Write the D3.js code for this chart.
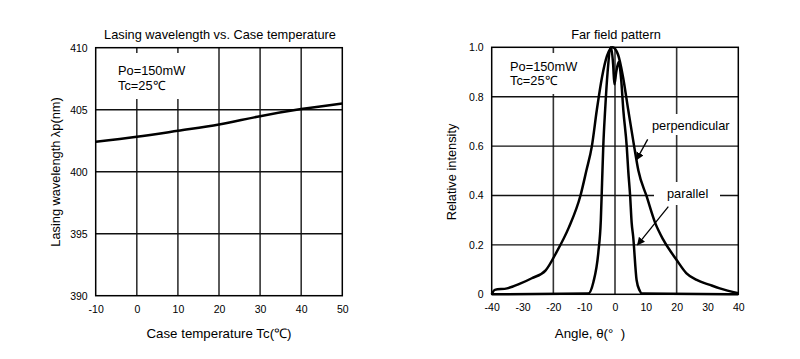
<!DOCTYPE html>
<html><head><meta charset="utf-8">
<script src="https://cdn.jsdelivr.net/npm/d3@7"></script>
<style>
html,body{margin:0;padding:0;background:#fff;}
svg text{font-family:"Liberation Sans",Arial,sans-serif;fill:#000;}
</style></head>
<body><svg id="c" width="800" height="359"></svg>
<script>
// ---- Left chart data ----
const tempC = [-10, 0, 10, 20, 30, 40, 50];
const wavelength = [402.42, 402.82, 403.3, 403.8, 404.48, 405.05, 405.5];
const leftXTicks = [-10, 0, 10, 20, 30, 40, 50];
const leftYTicks = [390, 395, 400, 405, 410];

// ---- Right chart data ----
const perpAngle = [-40, -39, -35, -31, -27, -22.5, -19, -15, -11.2, -9.3, -7.5, -5.9, -4.2, -2.6, -0.8, 1.0, 2.6, 4.3, 6.2, 7.6, 10.3, 13, 15.7, 20, 23.2, 26.5, 30.8, 34, 40];
const perpValue = [0.0, 0.018, 0.024, 0.042, 0.065, 0.097, 0.17, 0.27, 0.4, 0.5, 0.6, 0.746, 0.88, 0.965, 1.0, 0.97, 0.88, 0.746, 0.6, 0.5, 0.395, 0.29, 0.22, 0.139, 0.085, 0.058, 0.038, 0.024, 0.004];
const paraAngle = [-40, -8.7, -7.0, -5.4, -4.6, -4.2, -3.8, -3.2, -2.4, -1.3, -0.6, -0.2, 0.4, 1.2, 2.0, 2.7, 3.8, 4.3, 4.9, 5.4, 5.9, 7.0, 8.0, 8.7, 40];
const paraValue = [0, 0.003, 0.05, 0.17, 0.3, 0.45, 0.6, 0.746, 0.9, 1.0, 0.93, 0.85, 0.9, 0.94, 0.87, 0.746, 0.6, 0.5, 0.4, 0.29, 0.233, 0.058, 0.015, 0.003, 0];
const rightXTicks = [-40, -30, -20, -10, 0, 10, 20, 30, 40];
const rightXGrid = [-20, 0, 20];
const rightYTicks = [0, 0.2, 0.4, 0.6, 0.8, 1.0];
const rightYLabels = ["0", "0.2", "0.4", "0.6", "0.8", "1.0"];

const svg = d3.select("#c");
const FONT = "Liberation Sans, Arial, sans-serif";

// ================= LEFT =================
const xL = d3.scaleLinear().domain([-10, 50]).range([95.7, 342.3]);
const yL = d3.scaleLinear().domain([390, 410]).range([295.7, 47.7]);
const gL = svg.append("g");

gL.selectAll(".vg").data(leftXTicks.slice(1, -1)).enter().append("line")
  .attr("x1", d => xL(d)).attr("x2", d => xL(d))
  .attr("y1", yL(410)).attr("y2", yL(390))
  .attr("stroke", "#333").attr("stroke-width", 1.6);
gL.selectAll(".hg").data(leftYTicks.slice(1, -1)).enter().append("line")
  .attr("x1", xL(-10)).attr("x2", xL(50))
  .attr("y1", d => yL(d)).attr("y2", d => yL(d))
  .attr("stroke", "#111").attr("stroke-width", 1.4);
gL.append("rect").attr("x", xL(-10)).attr("y", yL(410))
  .attr("width", xL(50) - xL(-10)).attr("height", yL(390) - yL(410))
  .attr("fill", "none").attr("stroke", "#000").attr("stroke-width", 1.5);

gL.append("rect").attr("x", 101).attr("y", 53).attr("width", 102).attr("height", 46).attr("fill", "#fff");
gL.append("text").attr("x", 118).attr("y", 75).attr("font-size", 12.8).text("Po=150mW");
gL.append("text").attr("x", 118).attr("y", 89.5).attr("font-size", 12.8).text("Tc=25℃");

const lineL = d3.line().x(d => xL(d[0])).y(d => yL(d[1])).curve(d3.curveMonotoneX);
gL.append("path").datum(tempC.map((t, i) => [t, wavelength[i]]))
  .attr("d", lineL).attr("fill", "none").attr("stroke", "#000").attr("stroke-width", 2.5);

gL.append("g").attr("transform", `translate(0,${yL(390)})`)
  .call(d3.axisBottom(xL).tickValues(leftXTicks).tickFormat(d => String(d)).tickSize(0).tickPadding(10))
  .call(g => g.select(".domain").remove())
  .call(g => g.selectAll("text").attr("font-size", 10.5).attr("font-family", FONT));
gL.append("g").attr("transform", `translate(${xL(-10)},0)`)
  .call(d3.axisLeft(yL).tickValues(leftYTicks).tickFormat(d => String(d)).tickSize(0).tickPadding(8))
  .call(g => g.select(".domain").remove())
  .call(g => g.selectAll("text").attr("font-size", 10.5).attr("font-family", FONT));

svg.append("text").attr("x", 220).attr("y", 39).attr("text-anchor", "middle").attr("font-size", 12.8)
  .text("Lasing wavelength vs. Case temperature");
svg.append("text").attr("x", 219).attr("y", 338).attr("text-anchor", "middle").attr("font-size", 13.3)
  .text("Case temperature Tc(℃)");
svg.append("text").attr("transform", "translate(60,172) rotate(-90)").attr("text-anchor", "middle").attr("font-size", 12.8)
  .text("Lasing wavelength λp(nm)");

// ================= RIGHT =================
const xR = d3.scaleLinear().domain([-40, 40]).range([491.7, 738.3]);
const yR = d3.scaleLinear().domain([0, 1]).range([294.3, 47.3]);
const gR = svg.append("g");

gR.selectAll(".vg").data(rightXGrid).enter().append("line")
  .attr("x1", d => xR(d)).attr("x2", d => xR(d))
  .attr("y1", yR(1)).attr("y2", yR(0))
  .attr("stroke", "#333").attr("stroke-width", 1.6);
gR.selectAll(".hg").data(rightYTicks.slice(1, -1)).enter().append("line")
  .attr("x1", xR(-40)).attr("x2", xR(40))
  .attr("y1", d => yR(d)).attr("y2", d => yR(d))
  .attr("stroke", "#111").attr("stroke-width", 1.4);
gR.append("rect").attr("x", xR(-40)).attr("y", yR(1))
  .attr("width", xR(40) - xR(-40)).attr("height", yR(0) - yR(1))
  .attr("fill", "none").attr("stroke", "#000").attr("stroke-width", 1.5);

gR.append("rect").attr("x", 496).attr("y", 53).attr("width", 82).attr("height", 41).attr("fill", "#fff");
gR.append("text").attr("x", 510).attr("y", 70.5).attr("font-size", 12.8).text("Po=150mW");
gR.append("text").attr("x", 510).attr("y", 85).attr("font-size", 12.8).text("Tc=25℃");
gR.append("rect").attr("x", 648).attr("y", 114).attr("width", 82).attr("height", 21).attr("fill", "#fff");
gR.append("rect").attr("x", 654).attr("y", 182).attr("width", 66).attr("height", 23).attr("fill", "#fff");

const lineR = d3.line().x(d => xR(d[0])).y(d => yR(d[1])).curve(d3.curveMonotoneX);
gR.append("path").datum(perpAngle.map((a, i) => [a, perpValue[i]]))
  .attr("d", lineR).attr("fill", "none").attr("stroke", "#000").attr("stroke-width", 2.5).attr("stroke-linejoin", "round");
gR.append("path").datum(paraAngle.map((a, i) => [a, paraValue[i]]))
  .attr("d", lineR).attr("fill", "none").attr("stroke", "#000").attr("stroke-width", 2.5).attr("stroke-linejoin", "round");

gR.append("text").attr("x", 652).attr("y", 130).attr("font-size", 12.8).text("perpendicular");
gR.append("text").attr("x", 667).attr("y", 198).attr("font-size", 12.8).text("parallel");

const defs = svg.append("defs");
defs.append("marker").attr("id", "ah").attr("viewBox", "0 0 10 10").attr("refX", 9).attr("refY", 5)
  .attr("markerWidth", 8).attr("markerHeight", 8).attr("markerUnits", "userSpaceOnUse").attr("orient", "auto")
  .append("path").attr("d", "M0,0 L10,5 L0,10 z").attr("fill", "#000");
const arrows = [
  {from: [10.6, 0.627], to: [7.0, 0.545]},
  {from: [17.3, 0.355], to: [7.3, 0.2]}
];
gR.selectAll(".arr").data(arrows).enter().append("line")
  .attr("x1", d => xR(d.from[0])).attr("y1", d => yR(d.from[1]))
  .attr("x2", d => xR(d.to[0])).attr("y2", d => yR(d.to[1]))
  .attr("stroke", "#000").attr("stroke-width", 1.3).attr("marker-end", "url(#ah)");

gR.append("g").attr("transform", `translate(0,${yR(0)})`)
  .call(d3.axisBottom(xR).tickValues(rightXTicks).tickFormat(d => String(d)).tickSize(0).tickPadding(9))
  .call(g => g.select(".domain").remove())
  .call(g => g.selectAll("text").attr("font-size", 10.5).attr("font-family", FONT));
gR.append("g").attr("transform", `translate(${xR(-40)},0)`)
  .call(d3.axisLeft(yR).tickValues(rightYTicks).tickFormat((d, i) => rightYLabels[i]).tickSize(0).tickPadding(8))
  .call(g => g.select(".domain").remove())
  .call(g => g.selectAll("text").attr("font-size", 10.5).attr("font-family", FONT));

svg.append("text").attr("x", 616).attr("y", 39).attr("text-anchor", "middle").attr("font-size", 12.8)
  .text("Far field pattern");
svg.append("text").attr("x", 590).attr("y", 338).attr("text-anchor", "middle").attr("font-size", 13.3)
  .text("Angle, θ(°\u00a0\u00a0)");
svg.append("text").attr("transform", "translate(456,172) rotate(-90)").attr("text-anchor", "middle").attr("font-size", 12.8)
  .text("Relative intensity");
</script></body></html>
